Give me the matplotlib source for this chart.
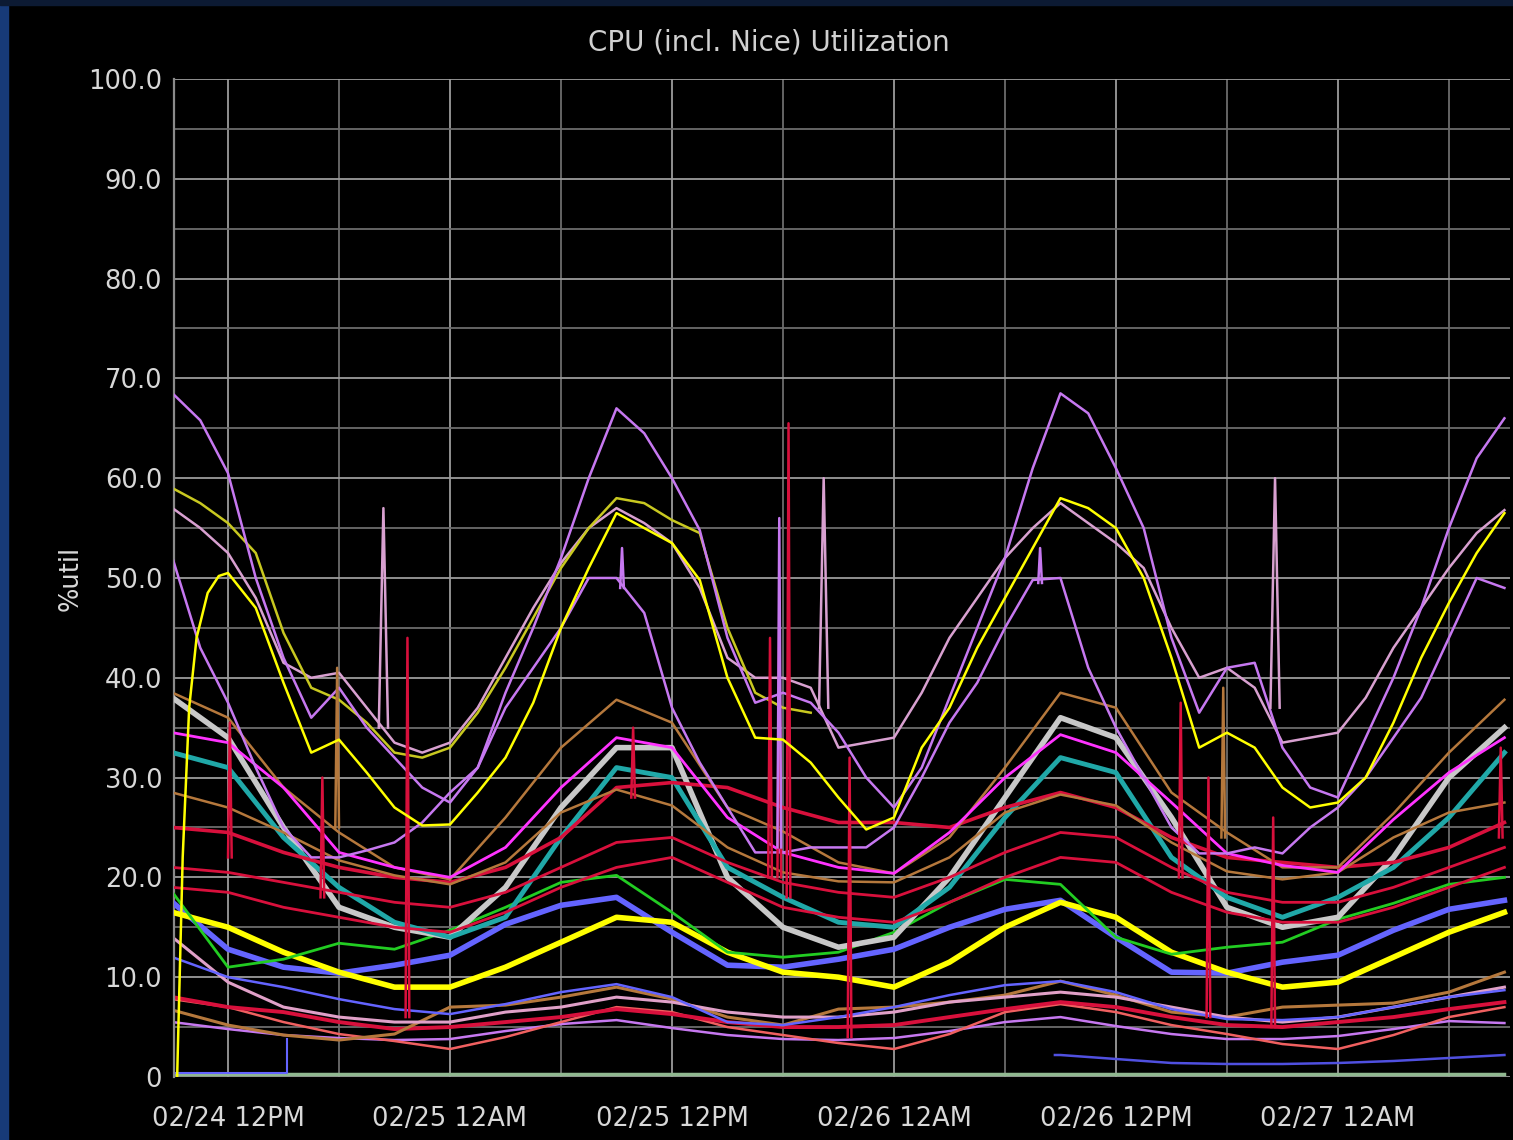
import datetime as dt
import numpy as np
import matplotlib
matplotlib.use('Agg')
import matplotlib.pyplot as plt
import matplotlib.dates as mdates
from matplotlib.ticker import FuncFormatter, MultipleLocator
from matplotlib.patches import Rectangle

nan = np.nan

# readings every 3 hours, hours after 02/24 12PM
hours = [-3, 0, 3, 6, 9, 12, 15, 18, 21, 24, 27, 30, 33,
         36, 39, 42, 45, 48, 51, 54, 57, 60, 63, 66, 69]
# the upper curves are read every 1.5 hours
hours_fine = [-3, -1.5, 0, 1.5, 3, 4.5, 6, 7.5, 9, 10.5, 12, 13.5, 15, 16.5, 18, 19.5,
              21, 22.5, 24, 25.5, 27, 28.5, 30, 31.5, 33, 34.5, 36, 37.5, 39, 40.5,
              42, 43.5, 45, 46.5, 48, 49.5, 51, 52.5, 54, 55.5, 57, 58.5, 60, 61.5,
              63, 64.5, 66, 67.5, 69]

violet_top = [68.5, 65.8, 60.5, 50, 42, 36, 39, 35, 32, 29, 27.5, 31, 38.5, 45, 52, 60,
              67, 64.5, 60, 54.8, 44, 37.5, 38.5, 37.5, 34.5, 30, 27, 31, 38, 45,
              52, 61, 68.5, 66.5, 61, 55, 44, 36.5, 41, 41.5, 33, 29, 28, 34,
              40, 47, 55, 62, 66]
violet_mid = [52, 43, 37.5, 31, 25, 22, 22, 22.7, 23.5, 25.5, 28.5, 31, 37, 41, 45, 50,
              50, 46.5, 37, 31.5, 27, 22.5, 22.5, 23, 23, 23, 25, 30, 35.5, 39.5,
              45, 49.8, 50, 41, 35, 30, 25, 22.4, 22.4, 23, 22.4, 25, 27, 30,
              34, 38, 44, 50, 49]
thistle = [57, 55, 52.5, 48, 41.5, 40, 40.5, 37, 33.5, 32.5, 33.5, 37, 42, 47, 51.5, 55,
           57, 55.5, 53.5, 49, 42, 40, 40, 39, 33, 33.5, 34, 38.5, 44, 48,
           52, 55, 57.5, 55.5, 53.5, 51, 45, 40, 41, 39, 33.5, 34, 34.5, 38,
           43, 47, 51, 54.5, 56.8]
olive = [59, 57.5, 55.5, 52.5, 44.5, 39, 37.8, 35.5, 32.5, 32, 33, 36.5, 41, 46, 51, 55,
         58, 57.5, 55.8, 54.5, 45, 38.5, 37, 36.5, nan, nan, nan, nan, nan, nan,
         nan, nan, nan, nan, nan, nan, nan, nan, nan, nan, nan, nan, nan, nan,
         nan, nan, nan, nan, nan]
yellow = [nan, nan, 50.5, 47, 39.5, 32.5, 33.8, 30.5, 27, 25.2, 25.3, 28.5, 32, 37.5, 45, 51,
          56.5, 55, 53.5, 49.8, 40, 34, 33.8, 31.5, 28, 24.8, 26, 33, 37, 43,
          48, 53, 58, 57, 55, 50, 42, 33, 34.5, 33, 29, 27, 27.5, 30,
          35.5, 42, 47.5, 52.5, 56.5]
yellow_start_hours = [-2.75, -2.45, -2.1, -1.7, -1.1, -0.5]
yellow_start = [0, 22, 37, 44, 48.5, 50.2]

gray = [38, 34, 25, 17, 15, 14, 19, 27, 33, 33, 20, 15, 13,
        14, 20, 28, 36, 34, 26, 17, 15, 16, 22, 30, 35]
teal = [32.5, 31, 24, 19, 15.5, 14, 16, 24, 31, 30, 21, 18, 15.5,
        15, 19, 26, 32, 30.5, 22, 18, 16, 18, 21, 26, 32.5]
magenta = [34.5, 33.5, 29, 22.5, 21, 20, 23, 29, 34, 33, 26, 22.5, 21,
           20.4, 24.5, 30, 34.3, 32.5, 27.5, 22.4, 21.2, 20.5, 25.8, 30.5, 34]
brown_hi = [38.5, 36, 29, 24.5, 21, 19.8, 26, 33, 37.8, 35.5, 27, 24.6, 21.5,
            20.4, 24, 31, 38.5, 37, 28.5, 24.5, 21, 21, 26.4, 32.5, 37.8]
brown_mid = [28.5, 27, 24.5, 21.7, 20.2, 19.3, 21.5, 26.5, 28.8, 27.2, 23, 20.5, 19.6,
             19.5, 22, 26.5, 28.3, 27.2, 23.5, 20.6, 19.8, 20.5, 24, 26.5, 27.5]
red_hi = [25, 24.5, 22.5, 21, 20, 19.5, 21, 24, 29, 29.5, 29, 27, 25.5,
          25.5, 25, 27, 28.5, 27, 24, 22, 21.5, 21, 21.5, 23, 25.5]
red_mid = [21, 20.5, 19.5, 18.5, 17.5, 17, 18.5, 21, 23.5, 24, 21.5, 19.5, 18.5,
           18, 20, 22.5, 24.5, 24, 21, 18.5, 17.5, 17.5, 19, 21, 23]
red_lo = [19, 18.5, 17, 16, 15, 14.5, 16.5, 19, 21, 22, 19.5, 17, 16,
          15.5, 17.5, 20, 22, 21.5, 18.5, 16.5, 15.5, 15.5, 17, 19, 21]
green = [18.5, 11, 11.8, 13.4, 12.8, 14.7, 17, 19.5, 20.2, 16.5, 12.5, 12, 12.5,
         14.5, 17.5, 19.8, 19.3, 14, 12.3, 13, 13.5, 15.8, 17.4, 19.3, 20]
yellow_noisy = [16.5, 15, 12.5, 10.5, 9, 9, 11, 13.5, 16, 15.5, 12.5, 10.5, 10,
                9, 11.5, 15, 17.5, 16, 12.5, 10.5, 9, 9.5, 12, 14.5, 16.5]
blue_noisy = [17.5, 12.8, 11, 10.4, 11.2, 12.2, 15.3, 17.2, 18, 14.5, 11.2, 11, 11.8,
              12.8, 15, 16.8, 17.7, 14, 10.5, 10.4, 11.5, 12.2, 14.7, 16.8, 17.7]
blue_thin = [12, 10, 9, 7.8, 6.8, 6.3, 7.3, 8.5, 9.3, 8, 5.5, 5.2, 6,
             7, 8.2, 9.2, 9.6, 8.5, 6.8, 5.8, 5.7, 6, 7, 8, 8.7]
pink = [14, 9.5, 7, 6, 5.5, 5.5, 6.5, 7, 8, 7.5, 6.5, 6, 6,
        6.5, 7.5, 8, 8.5, 8, 7, 6, 5.5, 6, 7, 8, 9]
brown_lo = [6.7, 5.2, 4.2, 3.7, 4.3, 7, 7.2, 8, 9, 7.8, 6, 5.2, 6.8,
            7, 7.5, 8.2, 9.6, 8.2, 6.5, 6, 7, 7.2, 7.4, 8.5, 10.5]
red_floor = [8, 7, 6.5, 5.5, 4.8, 5, 5.5, 6, 6.8, 6.3, 5.5, 5, 5,
             5.2, 6, 6.8, 7.5, 7, 6, 5.2, 5, 5.5, 6, 6.8, 7.5]
salmon = [7.8, 7, 5.5, 4.3, 3.6, 2.8, 4, 5.5, 7, 6.5, 5, 4.2, 3.4,
          2.8, 4.3, 6.5, 7.3, 6.5, 5.2, 4.3, 3.3, 2.8, 4.2, 6, 7]
violet_lo = [5.5, 4.8, 4.2, 3.9, 3.7, 3.8, 4.6, 5.3, 5.7, 4.9, 4.2, 3.8, 3.7,
             3.9, 4.6, 5.5, 6, 5.1, 4.3, 3.8, 3.8, 4.1, 4.8, 5.6, 5.4]
navy = [nan, nan, nan, nan, nan, nan, nan, nan, nan, nan, nan, nan, nan,
        nan, nan, nan, 2.2, 1.8, 1.4, 1.3, 1.3, 1.4, 1.6, 1.9, 2.2]
navy_start_hours = [44.7]
navy_start = [2.2]
floor_green = [0.3] * 25
floor_blue_hours = [-2.8, 3.2, 3.2]
floor_blue = [0.4, 0.4, 3.8]

# short spikes: series, hour, level before, peak
spike_series = ['red', 'red', 'red', 'red', 'red', 'red', 'red', 'red', 'red', 'red', 'red', 'red',
                'thistle', 'thistle', 'thistle', 'violet', 'violet', 'violet', 'brown', 'brown']
spike_hours = [0.1, 5.1, 9.7, 21.9, 29.3, 29.8, 30.3, 33.6, 51.5, 53.0, 56.5, 68.8,
               8.4, 32.2, 56.6, 21.3, 29.8, 43.9, 5.9, 53.8]
spike_base = [22, 18, 6, 28, 20, 20, 18, 4, 20, 6, 5, 24,
              35, 37, 37, 49, 23, 49.5, 25, 24]
spike_top = [35.5, 30, 44, 35, 44, 47, 65.5, 32, 37.5, 30, 26, 33,
             57, 60, 60, 53, 56, 53, 41, 39]

colors = {
    'violet': '#c678f0', 'thistle': '#d8a0d0', 'olive': '#c8c820',
    'yellow': '#ffff00', 'gray': '#c8c8c8', 'teal': '#20a8a8',
    'magenta': '#ff33ff', 'brown': '#b5783c', 'red': '#d8103c',
    'green': '#22cc22', 'blue': '#6464ff', 'pink': '#e0a0c8',
    'salmon': '#f06060', 'navy': '#5050e0', 'floor': '#90b890',
}

base = dt.datetime(2014, 2, 24, 12)


def to_time(hs):
    return [base + dt.timedelta(hours=float(h)) for h in hs]


fig = plt.figure(figsize=(15.13, 11.4), dpi=100, facecolor='black')
ax = fig.add_axes([0.115, 0.0553, 0.883, 0.8754])
ax.set_facecolor('black')

t = to_time(hours)
tf = to_time(hours_fine)

# bottom group
ax.plot(t, floor_green, color=colors['floor'], lw=2.5, zorder=2)
ax.plot(to_time(floor_blue_hours), floor_blue, color=colors['blue'], lw=1.5, zorder=2)
ax.plot(to_time(navy_start_hours + hours[16:]), navy_start + navy[16:], color=colors['navy'], lw=1.8, zorder=2)
ax.plot(t, violet_lo, color=colors['violet'], lw=1.8, zorder=2)
ax.plot(t, salmon, color=colors['salmon'], lw=1.8, zorder=2)
ax.plot(t, red_floor, color=colors['red'], lw=2.8, zorder=2)
ax.plot(t, brown_lo, color=colors['brown'], lw=2.2, zorder=2)
ax.plot(t, pink, color=colors['pink'], lw=2.2, zorder=2)
ax.plot(t, blue_thin, color=colors['blue'], lw=1.8, zorder=2)

# middle group
ax.plot(t, blue_noisy, color=colors['blue'], lw=4, zorder=3)
ax.plot(t, yellow_noisy, color=colors['yellow'], lw=4, zorder=3)
ax.plot(t, green, color=colors['green'], lw=2, zorder=3)
ax.plot(t, gray, color=colors['gray'], lw=4, zorder=3)
ax.plot(t, teal, color=colors['teal'], lw=3.5, zorder=3)
ax.plot(t, red_lo, color=colors['red'], lw=2, zorder=3)
ax.plot(t, red_mid, color=colors['red'], lw=2, zorder=3)
ax.plot(t, red_hi, color=colors['red'], lw=2.6, zorder=3)
ax.plot(t, brown_mid, color=colors['brown'], lw=1.8, zorder=3)
ax.plot(t, brown_hi, color=colors['brown'], lw=1.8, zorder=3)
ax.plot(t, magenta, color=colors['magenta'], lw=2, zorder=3)

# upper group
ax.plot(tf, violet_mid, color=colors['violet'], lw=1.8, zorder=4)
ax.plot(tf, thistle, color=colors['thistle'], lw=1.8, zorder=4)
ax.plot(tf, olive, color=colors['olive'], lw=1.8, zorder=4)
ax.plot(tf, violet_top, color=colors['violet'], lw=1.8, zorder=4)
ax.plot(to_time(yellow_start_hours + hours_fine[2:]), yellow_start + yellow[2:],
        color=colors['yellow'], lw=1.8, zorder=5)

for name, h, lo, hi in zip(spike_series, spike_hours, spike_base, spike_top):
    w = 0.25 if name == 'thistle' else 0.1
    ax.plot(to_time([h - w, h, h + w]), [lo, hi, lo], color=colors[name], lw=1.8, zorder=4)

ax.set_ylim(0, 100)
ax.set_xlim(base + dt.timedelta(hours=-2.92), base + dt.timedelta(hours=69.3))
ax.yaxis.set_major_locator(MultipleLocator(10))
ax.yaxis.set_minor_locator(MultipleLocator(5))
ax.yaxis.set_major_formatter(FuncFormatter(lambda v, p: '0' if v == 0 else '%.1f' % v))
ax.xaxis.set_major_locator(mdates.HourLocator(byhour=[0, 12]))
ax.xaxis.set_minor_locator(mdates.HourLocator(byhour=[6, 18]))
ax.xaxis.set_major_formatter(mdates.DateFormatter('%m/%d %I%p'))

ax.grid(which='major', color='#9c9c9c', lw=1.3, zorder=1)
ax.grid(which='minor', color='#6c6c6c', lw=1.3, zorder=1)
ax.set_axisbelow(True)
ax.tick_params(which='both', length=0, colors='#d8d8d8', labelsize=18.5)
ax.tick_params(axis='x', pad=21)
ax.tick_params(axis='y', pad=8.5)
for side in ['top', 'right', 'bottom']:
    ax.spines[side].set_visible(False)
ax.spines['left'].set_color('#8a8a8a')
ax.spines['left'].set_linewidth(1.6)

ax.set_ylabel('%util', color='#d8d8d8', fontsize=18.5, labelpad=3)
fig.text(0.508, 0.963, 'CPU (incl. Nice) Utilization', color='#d0d0d0',
         fontsize=20, ha='center', va='center')

# screenshot edge
fig.patches.append(Rectangle((0, 0), 0.005, 1, transform=fig.transFigure,
                             color='#173a78', zorder=0))
fig.patches.append(Rectangle((0, 0.996), 1, 0.004, transform=fig.transFigure,
                             color='#0c1a33', zorder=0))

fig.savefig('out.png', dpi=100, facecolor='black')
